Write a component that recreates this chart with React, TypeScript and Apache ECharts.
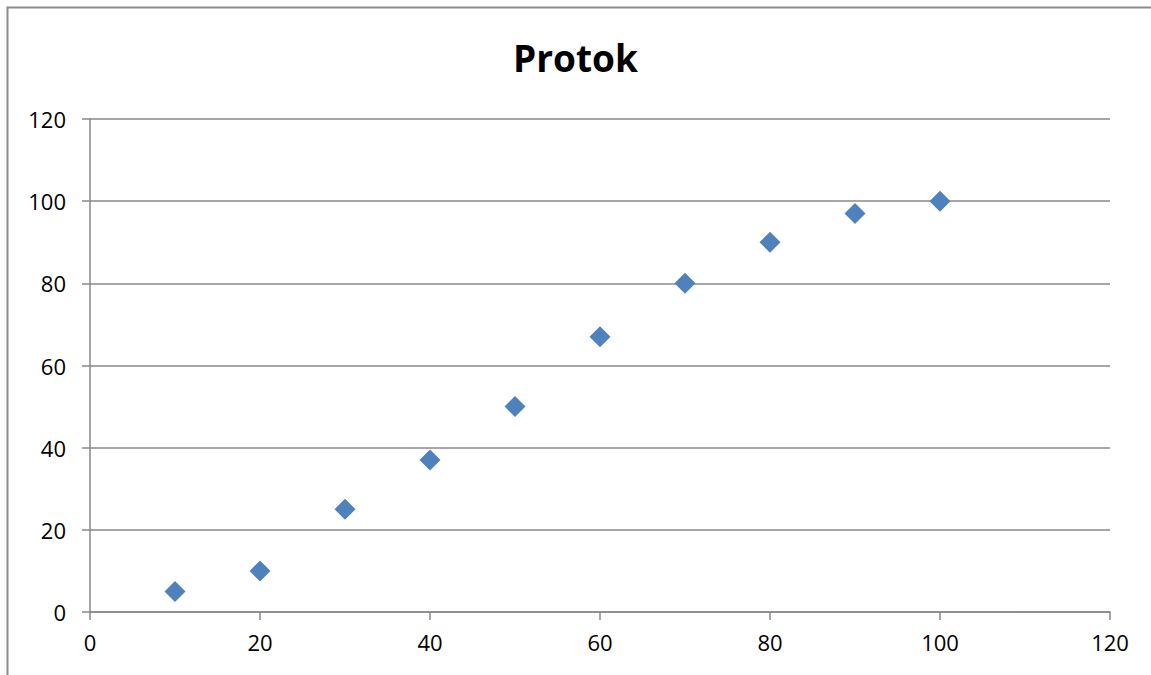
import React, { useEffect, useRef } from "react";
import * as echarts from "echarts";

const xValues = [10, 20, 30, 40, 50, 60, 70, 80, 90, 100];
const yValues = [5, 10, 25, 37, 50, 67, 80, 90, 97, 100];
const titleText = "Protok";

export default function App() {
  const ref = useRef<HTMLDivElement>(null);
  useEffect(() => {
    if (!ref.current) return;
    const chart = echarts.init(ref.current, null, { renderer: "svg" });
    const axisColor = "#888888";
    const font = "'Open Sans', 'Noto Sans', sans-serif";
    chart.setOption({
      animation: false,
      backgroundColor: "#ffffff",
      title: {
        text: titleText,
        left: "center",
        top: 34,
        textStyle: { fontFamily: font, fontSize: 37, fontWeight: "bold", color: "#000" },
      },
      graphic: [
        {
          type: "rect",
          shape: { x: 7.5, y: 7.5, width: 1300, height: 800 },
          style: { fill: "none", stroke: "#8a8a8a", lineWidth: 2 },
          silent: true,
        },
      ],
      grid: { left: 90, right: 41, top: 119, bottom: 63 },
      xAxis: {
        type: "value",
        min: 0,
        max: 120,
        interval: 20,
        axisLine: { show: true, lineStyle: { color: axisColor, width: 1.5 } },
        axisTick: { show: true, length: 8, lineStyle: { color: axisColor, width: 1.5 } },
        splitLine: { show: false },
        axisLabel: { color: "#000", fontSize: 22, fontFamily: font, margin: 19 },
      },
      yAxis: {
        type: "value",
        min: 0,
        max: 120,
        interval: 20,
        axisLine: { show: true, lineStyle: { color: axisColor, width: 1.5 } },
        axisTick: { show: true, length: 8, lineStyle: { color: axisColor, width: 1.5 } },
        splitLine: { show: true, lineStyle: { color: axisColor, width: 1.5 } },
        axisLabel: { color: "#000", fontSize: 22, fontFamily: font, margin: 24 },
      },
      series: [
        {
          type: "scatter",
          symbol: "diamond",
          symbolSize: 21,
          itemStyle: { color: "#4F81BD", opacity: 1 },
          data: xValues.map((x, i) => [x, yValues[i]]),
        },
      ],
    });
    return () => chart.dispose();
  }, []);
  return (
    <div
      ref={ref}
      style={{ position: "fixed", left: 0, top: 0, width: 1151, height: 675 }}
    />
  );
}
